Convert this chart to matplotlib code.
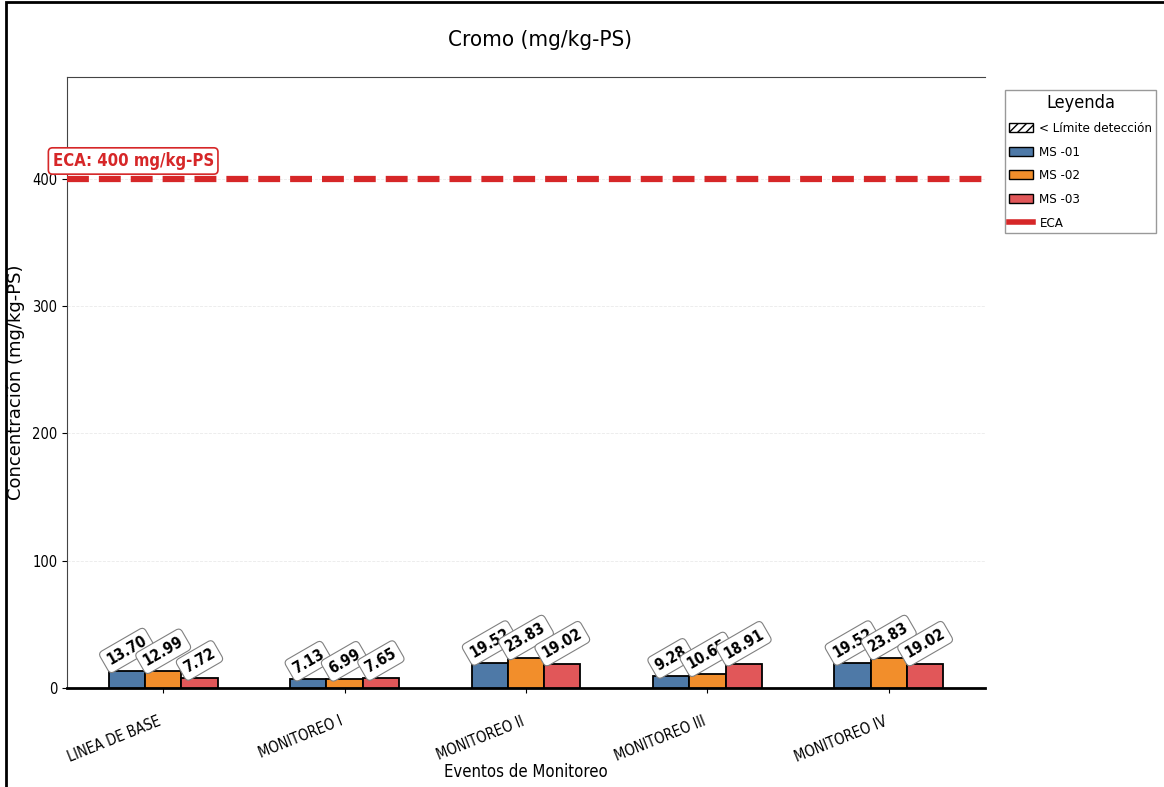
import numpy as np
import matplotlib
matplotlib.use("Agg")
import matplotlib.pyplot as plt
from matplotlib.patches import Patch, Rectangle
from matplotlib.lines import Line2D

# datos
eventos = ["LINEA DE BASE", "MONITOREO I", "MONITOREO II", "MONITOREO III", "MONITOREO IV"]
ms01 = [13.70, 7.13, 19.52, 9.28, 19.52]
ms02 = [12.99, 6.99, 23.83, 10.65, 23.83]
ms03 = [7.72, 7.65, 19.02, 18.91, 19.02]
estaciones = ["MS -01", "MS -02", "MS -03"]
colores = ["#4e79a7", "#f28e2b", "#e15759"]
eca = 400

plt.rcParams['font.family'] = ['DejaVu Sans']
plt.rcParams['font.stretch'] = 'condensed'

fig = plt.figure(figsize=(11.64, 7.87), dpi=100)
ax = fig.add_axes([0.0576, 0.1258, 0.7886, 0.7764])

x = np.arange(len(eventos))
ancho = 0.2
series = [ms01, ms02, ms03]
for i, (vals, nombre, col) in enumerate(zip(series, estaciones, colores)):
    pos = x + (i - 1) * ancho
    ax.bar(pos, vals, ancho, color=col, edgecolor="black", linewidth=1.3, label=nombre, zorder=3)
    for xi, v in zip(pos, vals):
        ax.annotate(f"{v:.2f}", (xi, v), xytext=(0, 2), textcoords="offset points",
                    ha="center", va="bottom", rotation=30, fontsize=11, fontweight="bold",
                    bbox=dict(boxstyle="round,pad=0.3", fc="white", ec="gray", lw=0.8), zorder=5)

# linea ECA
ax.axhline(eca, color="#d62728", linestyle=(0, (3.5, 1.6)), linewidth=4.5, zorder=4)
ax.text(-0.61, eca + 14, f"ECA: {eca} mg/kg-PS", color="#d62728", fontsize=12, fontweight="bold",
        ha="left", va="center", clip_on=False, zorder=6,
        bbox=dict(boxstyle="round,pad=0.25", fc="white", ec="#d62728", lw=1.2))

ax.set_ylim(0, 480)
ax.set_yticks([0, 100, 200, 300, 400])
ax.set_xticks(x)
ax.set_xticklabels(eventos, rotation=22, ha="right", fontsize=10.5)
ax.tick_params(axis="x", pad=15)
ax.tick_params(axis="y", labelsize=10.5)
ax.yaxis.grid(True, linestyle="--", color="#dddddd", linewidth=0.6, alpha=0.6)
ax.set_axisbelow(True)
ax.spines["right"].set_visible(False)
ax.spines["bottom"].set_linewidth(2)
ax.spines["left"].set_color("#444444")
ax.spines["top"].set_color("#444444")

ax.set_title("Cromo (mg/kg-PS)", fontsize=16, pad=22, x=0.515)
ax.set_xlabel("Eventos de Monitoreo", fontsize=12, labelpad=-1)
ax.set_ylabel("Concentración (mg/kg-PS)", fontsize=13, fontstretch='normal')
ax.yaxis.set_label_coords(-0.046, 0.5)

handles = [Patch(facecolor="white", edgecolor="black", hatch="////", label="< Límite detección")]
handles += [Patch(facecolor=c, edgecolor="black", label=n) for c, n in zip(colores, estaciones)]
handles.append(Line2D([0], [0], color="#d62728", linewidth=4, label="ECA"))
ax.legend(handles=handles, title="Leyenda", loc="upper left", bbox_to_anchor=(1.022, 0.979),
          borderaxespad=0, borderpad=0.3, fontsize=9.5, title_fontsize=13, frameon=True,
          edgecolor="gray", fancybox=False, handlelength=1.8, handletextpad=0.5, labelspacing=0.8)

# marco de la figura
fig.patches.append(Rectangle((0.005, -0.05), 1.2, 1.047, transform=fig.transFigure,
                             fill=False, edgecolor="black", linewidth=2))

fig.savefig("out.png", dpi=100)
